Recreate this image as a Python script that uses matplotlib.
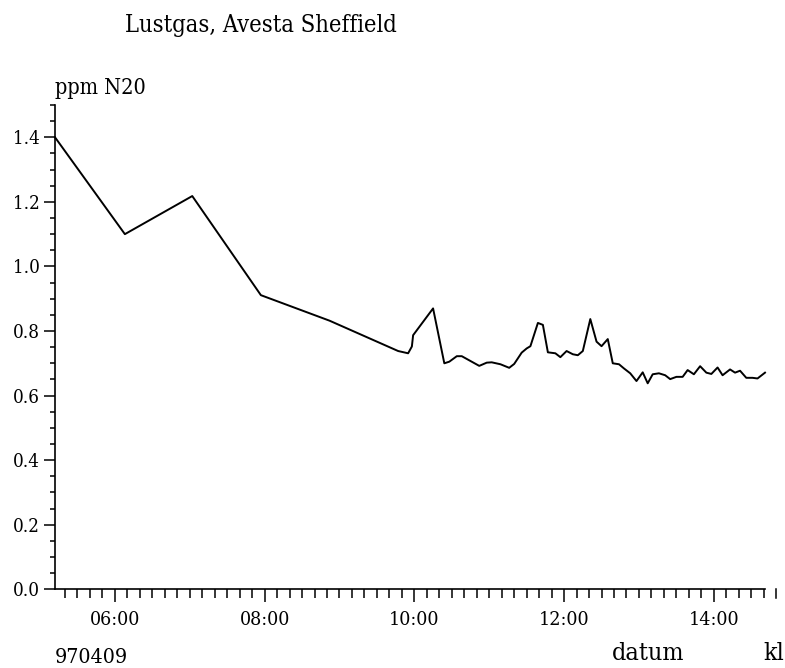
import matplotlib
matplotlib.use("Agg")
import matplotlib.pyplot as plt
import matplotlib.dates as mdates
from matplotlib.ticker import MultipleLocator, FormatStrFormatter
import pandas as pd

date = "1997-04-09"
times = ["05:12", "06:08", "07:02", "07:57", "08:52", "09:47", "09:55", "09:58", "09:59",
         "10:15", "10:24", "10:28", "10:34", "10:38", "10:52", "10:58", "11:02", "11:09",
         "11:16", "11:20", "11:26", "11:30", "11:33", "11:39", "11:43", "11:47", "11:53",
         "11:57", "12:02", "12:07", "12:11", "12:15", "12:21", "12:26", "12:30", "12:35",
         "12:39", "12:44", "12:48", "12:53", "12:58", "13:03", "13:07", "13:11", "13:16",
         "13:21", "13:25", "13:30", "13:35", "13:39", "13:44", "13:49", "13:54", "13:58",
         "14:03", "14:07", "14:13", "14:17", "14:21", "14:26", "14:31", "14:35", "14:41"]
ppm = [1.400, 1.100, 1.218, 0.911, 0.832, 0.738, 0.731, 0.752, 0.787,
       0.870, 0.700, 0.705, 0.722, 0.722, 0.692, 0.702, 0.703, 0.697,
       0.686, 0.698, 0.733, 0.746, 0.753, 0.825, 0.819, 0.734, 0.731,
       0.719, 0.738, 0.728, 0.725, 0.738, 0.837, 0.767, 0.753, 0.775,
       0.700, 0.697, 0.684, 0.669, 0.645, 0.672, 0.638, 0.666, 0.669,
       0.663, 0.651, 0.658, 0.658, 0.679, 0.666, 0.691, 0.671, 0.667,
       0.687, 0.663, 0.681, 0.671, 0.677, 0.655, 0.655, 0.653, 0.671]
x_start, x_end, kl_tick = "05:12", "14:41", "14:50"

t = pd.to_datetime([f"{date} {s}" for s in times])
T = lambda s: pd.Timestamp(f"{date} {s}")

plt.rcParams["font.family"] = "DejaVu Serif"
plt.rcParams["font.stretch"] = "condensed"

fig = plt.figure(figsize=(7.85, 6.68), dpi=100)
ax = fig.add_axes([55 / 785, 78.7 / 668, 710 / 785, 484.3 / 668])
ax.plot(t, ppm, color="black", lw=1.4, clip_on=False)

ax.set_xlim(T(x_start), T(x_end))
ax.set_ylim(0, 1.5)
for s in ["top", "right"]:
    ax.spines[s].set_visible(False)
for s in ["left", "bottom"]:
    ax.spines[s].set_linewidth(1.2)

ax.xaxis.set_major_locator(mdates.HourLocator(byhour=[6, 8, 10, 12, 14]))
ax.xaxis.set_major_formatter(mdates.DateFormatter("%H:%M"))
ax.xaxis.set_minor_locator(mdates.MinuteLocator(byminute=range(0, 60, 10)))
ax.yaxis.set_major_locator(MultipleLocator(0.2))
ax.yaxis.set_minor_locator(MultipleLocator(0.05))
ax.yaxis.set_major_formatter(FormatStrFormatter("%.1f"))

ax.tick_params(axis="x", which="major", length=9.5, width=1.1, pad=6, labelsize=14)
ax.tick_params(axis="x", which="minor", length=6.5, width=1.1)
ax.tick_params(axis="y", which="major", length=8, width=1.1, pad=3, labelsize=13.5)
ax.tick_params(axis="y", which="minor", length=3.6, width=1.1)

# isolated tick mark beyond the axis end
ax.plot([T(kl_tick), T(kl_tick)], [0, -0.0186], transform=ax.get_xaxis_transform(),
        color="black", lw=1.1, clip_on=False)

fig.text(125 / 785, 1 - 32 / 668, "Lustgas, Avesta Sheffield", fontsize=17, ha="left", va="baseline")
fig.text(55 / 785, 1 - 94 / 668, "ppm N20", fontsize=15.5, ha="left", va="baseline")
fig.text(55 / 785, 1 - 663 / 668, "970409", fontsize=15.3, ha="left", va="baseline")
fig.text(612 / 785, 1 - 660 / 668, "datum", fontsize=18, ha="left", va="baseline")
fig.text(763 / 785, 1 - 660 / 668, "kl", fontsize=18, ha="left", va="baseline")

fig.savefig("out.png", dpi=100, facecolor="white")
